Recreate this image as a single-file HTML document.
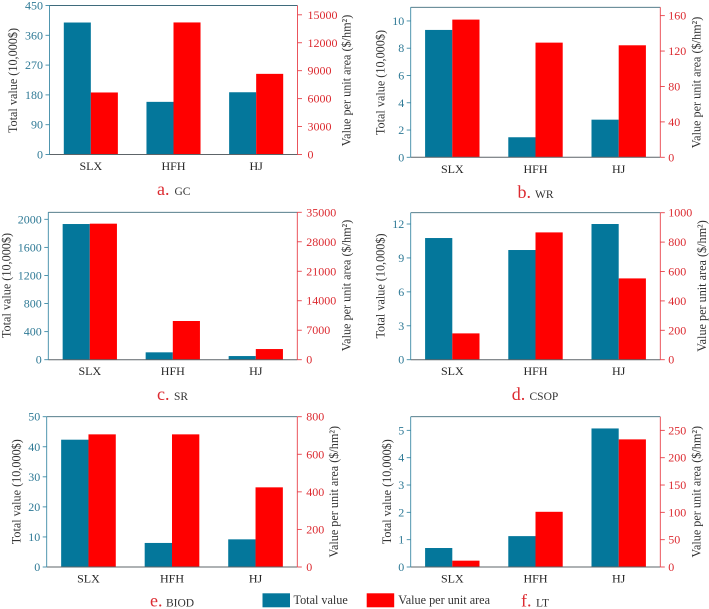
<!DOCTYPE html>
<html>
<head>
<meta charset="utf-8">
<title>Ecosystem service values by site</title>
<style>
html,body{margin:0;padding:0;background:#fff;}
#figure{display:block;width:709px;height:609px;font-family:"Liberation Serif",serif;filter:blur(0.3px);}
</style>
</head>
<body>
<svg id="figure" width="709" height="609" viewBox="0 0 709 609" xmlns="http://www.w3.org/2000/svg"></svg>
<script>
const categories = ["SLX", "HFH", "HJ"];

const gcTotal = [398.6, 159, 188];
const gcUnit = [6660, 14180, 8660];
const gcLeftTicks = [0, 90, 180, 270, 360, 450];
const gcRightTicks = [0, 3000, 6000, 9000, 12000, 15000];

const wrTotal = [9.34, 1.47, 2.76];
const wrUnit = [155.5, 129.5, 126.5];
const wrLeftTicks = [0, 2, 4, 6, 8, 10];
const wrRightTicks = [0, 40, 80, 120, 160];

const srTotal = [1933, 105, 52];
const srUnit = [32300, 9190, 2530];
const srLeftTicks = [0, 400, 800, 1200, 1600, 2000];
const srRightTicks = [0, 7000, 14000, 21000, 28000, 35000];

const csopTotal = [10.76, 9.7, 12];
const csopUnit = [179, 866, 553];
const csopLeftTicks = [0, 3, 6, 9, 12];
const csopRightTicks = [0, 200, 400, 600, 800, 1000];

const biodTotal = [42.35, 8, 9.2];
const biodUnit = [706, 706, 424];
const biodLeftTicks = [0, 10, 20, 30, 40, 50];
const biodRightTicks = [0, 200, 400, 600, 800];

const ltTotal = [0.695, 1.13, 5.07];
const ltUnit = [11.6, 101, 233.5];
const ltLeftTicks = [0, 1, 2, 3, 4, 5];
const ltRightTicks = [0, 50, 100, 150, 200, 250];

const BLUE = "#04779b";
const BLUE_TEXT = "#2f7a96";
const RED = "#ff0000";
const RED_TEXT = "#dc2a30";
const DARK = "#333333";
const SVG_NS = "http://www.w3.org/2000/svg";
const root = document.getElementById("figure");

function make(tag, attrs, parent) {
  const el = document.createElementNS(SVG_NS, tag);
  for (const k in attrs) el.setAttribute(k, attrs[k]);
  parent.appendChild(el);
  return el;
}
function label(parent, str, x, y, size, fill, anchor, rotate) {
  const attrs = { x: x, y: y, "font-size": size, fill: fill, "text-anchor": anchor };
  if (rotate) attrs.transform = "rotate(-90 " + x + " " + y + ")";
  const t = make("text", attrs, parent);
  t.textContent = str;
  return t;
}

function drawPanel(id, box, total, unit, leftMax, rightMax, leftTicks, rightTicks, titles, caption) {
  const g = make("g", {}, root);
  
  

  const plotH = box.bottom - box.top;
  const plotW = box.right - box.left;
  const yLeft = v => box.bottom - (v / leftMax) * plotH;
  const yRight = v => box.bottom - (v / rightMax) * plotH;
  const band = plotW / categories.length;
  const barW = band * 0.327;
  const xCenter = i => box.left + band * (i + 0.5);

  categories.forEach((cat, i) => {
    const b1 = make("rect", { x: xCenter(i) - barW, y: yLeft(total[i]), width: barW, height: box.bottom - yLeft(total[i]), fill: BLUE }, g);
    
    
    const b2 = make("rect", { x: xCenter(i), y: yRight(unit[i]), width: barW, height: box.bottom - yRight(unit[i]), fill: RED }, g);
    
    
    const c = label(g, cat, xCenter(i), box.bottom + 15.5, 12, "#262626", "middle");
    
    
  });

  const top = make("line", { x1: box.left, x2: box.right, y1: box.top, y2: box.top, stroke: "#3f6b7c", "stroke-width": 0.9 }, g);
  
  
  const bottom = make("line", { x1: box.left, x2: box.right, y1: box.bottom, y2: box.bottom, stroke: "#5d6468", "stroke-width": 1 }, g);
  
  
  const ls = make("line", { x1: box.left, x2: box.left, y1: box.top, y2: box.bottom, stroke: "#3d8aa6", "stroke-width": 0.9 }, g);
  
  
  const rs = make("line", { x1: box.right, x2: box.right, y1: box.top, y2: box.bottom, stroke: "#e8424a", "stroke-width": 0.9 }, g);
  
  

  leftTicks.forEach(v => {
    const y = yLeft(v);
    const tk = make("line", { x1: box.left - 4, x2: box.left, y1: y, y2: y, stroke: "#3d8aa6", "stroke-width": 0.9 }, g);
    
    
    const t = label(g, String(v), box.left - 6.5, y + 4, 12, BLUE_TEXT, "end");
    
    
  });
  rightTicks.forEach(v => {
    const y = yRight(v);
    const tk = make("line", { x1: box.right, x2: box.right + 4.5, y1: y, y2: y, stroke: "#e8424a", "stroke-width": 0.9 }, g);
    
    
    const t = label(g, String(v), box.right + box.rightGap, y + 4, 12, RED_TEXT, "start");
    
    
  });

  const lt = label(g, "Total value (10,000$)", titles.leftX + 4, titles.midY, 12.2, DARK, "middle", true);
  
  
  const rt = label(g, "Value per unit area ($/hm²)", titles.rightX + 4, titles.midY, 12.2, DARK, "middle", true);
  
  

  const cl = label(g, caption.letter, caption.x, caption.y, 18, RED_TEXT, "start");
  
  
  const cn = label(g, caption.name, caption.nameX, caption.y, 11.5, DARK, "start");
  
  
}

drawPanel("gc", { left: 49.5, right: 297.5, top: 5.5, bottom: 154.5, rightGap: 10 },
  gcTotal, gcUnit, 450, 16000, gcLeftTicks, gcRightTicks,
  { leftX: 13, rightX: 346.7, midY: 80.5 }, { letter: "a.", name: "GC", x: 157, nameX: 174.5, y: 195 });
drawPanel("wr", { left: 410.7, right: 660.3, top: 7.3, bottom: 157.3, rightGap: 8 },
  wrTotal, wrUnit, 11, 169.4, wrLeftTicks, wrRightTicks,
  { leftX: 380.7, rightX: 696.7, midY: 82.5 }, { letter: "b.", name: "WR", x: 517.5, nameX: 535, y: 198 });
drawPanel("sr", { left: 48.3, right: 297.3, top: 212.3, bottom: 359.7, rightGap: 9 },
  srTotal, srUnit, 2100, 35000, srLeftTicks, srRightTicks,
  { leftX: 6.7, rightX: 346.7, midY: 285.5 }, { letter: "c.", name: "SR", x: 157, nameX: 174, y: 400 });
drawPanel("csop", { left: 410.7, right: 660.3, top: 212.7, bottom: 359.7, rightGap: 8 },
  csopTotal, csopUnit, 13, 1000, csopLeftTicks, csopRightTicks,
  { leftX: 380.7, rightX: 702, midY: 286 }, { letter: "d.", name: "CSOP", x: 511.7, nameX: 529.5, y: 400 });
drawPanel("biod", { left: 46.7, right: 297.3, top: 416.7, bottom: 567, rightGap: 9 },
  biodTotal, biodUnit, 50, 800, biodLeftTicks, biodRightTicks,
  { leftX: 16.7, rightX: 334, midY: 491.7 }, { letter: "e.", name: "BIOD", x: 150, nameX: 166, y: 606.5 });
drawPanel("lt", { left: 410.7, right: 660.3, top: 416.7, bottom: 567, rightGap: 8 },
  ltTotal, ltUnit, 5.5, 275, ltLeftTicks, ltRightTicks,
  { leftX: 387, rightX: 696.7, midY: 491.7 }, { letter: "f.", name: "LT", x: 521, nameX: 536, y: 606.5 });

const legend = make("g", {}, root);


const swatchTotal = make("rect", { x: 262.5, y: 593.3, width: 27.5, height: 14, fill: BLUE }, legend);


const textTotal = label(legend, "Total value", 293.5, 604, 12.2, DARK, "start");


const swatchUnit = make("rect", { x: 366.7, y: 593.3, width: 27.5, height: 14, fill: RED }, legend);


const textUnit = label(legend, "Value per unit area", 398.3, 604, 12.2, DARK, "start");


</script>
</body>
</html>
